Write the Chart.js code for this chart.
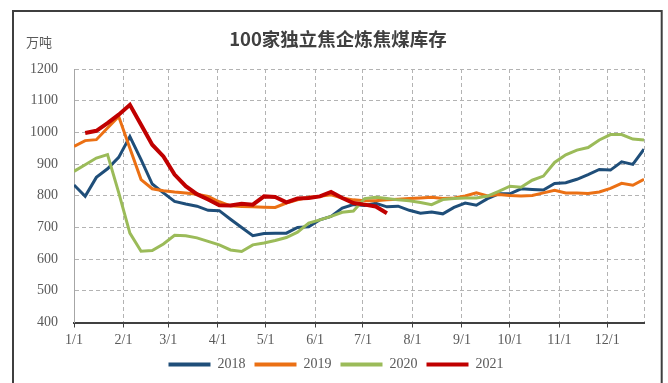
<!DOCTYPE html>
<html>
<head>
<meta charset="utf-8">
<script src="https://cdn.jsdelivr.net/npm/chart.js@4.4.0/dist/chart.umd.min.js"></script>
<style>
  html, body { margin: 0; padding: 0; background: #fff; }
</style>
</head>
<body>
<canvas id="chart_stock" width="668" height="383"></canvas>
<script>
'use strict';

const titre = '100家独立焦企炼焦煤库存';
const unite = '万吨';

// jour de l'année de chaque relevé hebdomadaire
const jours = [0, 7, 14, 21, 28, 35, 42, 49, 56, 63, 70, 77, 84, 91, 98, 105, 112, 119, 126, 133,
    140, 147, 154, 161, 168, 175, 182, 189, 196, 203, 210, 217, 224, 231, 238, 245, 252, 259, 266, 273,
    280, 287, 294, 301, 308, 315, 322, 329, 336, 343, 350, 357];

const moisDebut = [0, 31, 59, 90, 120, 151, 181, 212, 243, 273, 304, 334];
const moisLabels = ['1/1', '2/1', '3/1', '4/1', '5/1', '6/1', '7/1', '8/1', '9/1', '10/1', '11/1', '12/1'];
const finAxe = 357;

const annees = ['2018', '2019', '2020', '2021'];
const couleurs = ['#1F4E79', '#EB7014', '#9BBB59', '#C00000'];

const stock2018 = [834, 798, 858, 885, 921, 987, 914, 837, 809, 782, 774, 767, 754, 753, 726, 700, 674, 681, 682, 682,
    700, 702, 724, 735, 761, 772, 769, 776, 765, 767, 754, 745, 749, 743, 763, 777, 770, 791, 806, 806,
    822, 820, 818, 839, 841, 852, 867, 883, 881, 907, 899, 947];
const stock2019 = [956, 974, 977, 1014, 1050, 950, 851, 822, 816, 812, 809, 805, 798, 781, 768, 766, 765, 764, 763, 777,
    787, 795, 798, 803, 793, 787, 784, 784, 787, 789, 791, 793, 795, 791, 793, 799, 809, 799, 804, 801,
    799, 801, 809, 817, 809, 809, 807, 812, 823, 839, 833, 852];
const stock2020 = [877, 898, 919, 930, 810, 682, 625, 627, 648, 675, 674, 667, 656, 645, 629, 624, 645, 651, 659, 668,
    685, 714, 724, 735, 748, 752, 791, 795, 791, 787, 784, 779, 772, 788, 791, 793, 793, 799, 814, 830,
    827, 849, 862, 905, 929, 944, 952, 976, 993, 993, 979, 976];
const stock2021 = [null, 998, 1005, 1029, 1056, 1087, 1024, 961, 924, 867, 830, 805, 788, 770, 769, 775, 772, 798, 796, 779,
    791, 793, 798, 812, 793, 777, 772, 766, 745];

const series = [stock2018, stock2019, stock2020, stock2021];
const epaisseurs = [3, 3, 3, 4];
const ordres = [3, 2, 1, 0]; // 2021 dessus, comme dans Excel

const grille = '#b3b3b3';
const texteGris = '#595959';
const serif = '"Liberation Serif"';

// cadre, titre et unité
const cadre = {
    id: 'cadre',
    afterDraw(chart) {
        const c = chart.ctx;
        c.save();
        c.strokeStyle = '#3f3f3f';
        c.lineWidth = 2;
        c.strokeRect(13, 11, 648.7, 420);
        c.fillStyle = '#404040';
        c.font = 'bold 18.5px "Noto Sans CJK SC"';
        c.textAlign = 'center';
        c.textBaseline = 'middle';
        c.fillText(titre, 338, 39);
        c.fillStyle = texteGris;
        c.font = '13px "Noto Sans CJK SC"';
        c.textAlign = 'left';
        c.fillText(unite, 26, 42);
        c.restore();
    }
};

function dessiner() {
    const ctx = document.querySelector('#chart_stock');
    new Chart(ctx, {
        type: 'line',
        data: {
            labels: jours,
            datasets: annees.map((a, i) => ({
                label: a,
                data: series[i],
                borderColor: couleurs[i],
                backgroundColor: couleurs[i],
                borderWidth: epaisseurs[i],
                pointRadius: 0,
                tension: 0,
                fill: false,
                order: ordres[i]
            }))
        },
        options: {
            responsive: false,
            animation: false,
            layout: { padding: { top: 69, left: 28, right: 24, bottom: 1.5 } },
            plugins: {
                tooltip: { enabled: false },
                legend: {
                    display: true,
                    position: 'bottom',
                    labels: {
                        boxWidth: 42,
                        boxHeight: 4,
                        padding: 9,
                        color: texteGris,
                        font: { family: serif, size: 14 },
                        sort: (a, b) => a.datasetIndex - b.datasetIndex,
                        generateLabels(chart) {
                            const items = Chart.defaults.plugins.legend.labels.generateLabels(chart);
                            items.forEach(it => {
                                it.lineWidth = 0;
                                it.fillStyle = it.strokeStyle;
                            });
                            return items;
                        }
                    }
                }
            },
            scales: {
                x: {
                    type: 'linear',
                    min: 0,
                    max: finAxe,
                    afterBuildTicks: (scale) => {
                        scale.ticks = moisDebut.concat([finAxe]).map(v => ({ value: v }));
                    },
                    afterFit: (scale) => { scale.height = 26; },
                    ticks: {
                        autoSkip: false,
                        maxRotation: 0,
                        padding: 4,
                        color: texteGris,
                        font: { family: serif, size: 14 },
                        callback: (v) => {
                            const i = moisDebut.indexOf(v);
                            return i >= 0 ? moisLabels[i] : '';
                        }
                    },
                    grid: {
                        color: (c) => (c.tick && c.tick.value === 0) ? 'transparent' : grille,
                        lineWidth: 1,
                        tickLength: 5,
                        tickWidth: 1,
                        tickColor: (c) => (c.tick && c.tick.value === finAxe) ? 'transparent' : '#404040',
                        tickBorderDash: []
                    },
                    border: { display: true, color: '#404040', width: 2, dash: [4, 3] }
                },
                y: {
                    min: 400,
                    max: 1200,
                    afterFit: (scale) => { scale.width = 46; },
                    ticks: {
                        stepSize: 100,
                        padding: 16,
                        color: texteGris,
                        font: { family: serif, size: 14 },
                        callback: (v) => String(v)
                    },
                    grid: {
                        color: grille,
                        lineWidth: 1,
                        drawTicks: false
                    },
                    border: { display: true, color: '#a6a6a6', width: 1, dash: [4, 3] }
                }
            }
        },
        plugins: [cadre]
    });
}

Promise.all([
    document.fonts.load('14px "Liberation Serif"'),
    document.fonts.load('bold 18.5px "Noto Sans CJK SC"'),
    document.fonts.load('13px "Noto Sans CJK SC"')
]).then(dessiner, dessiner);
</script>
</body>
</html>
